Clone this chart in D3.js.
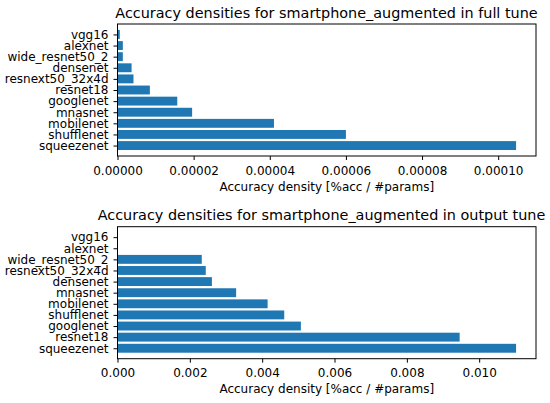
<!DOCTYPE html>
<html>
<head>
<meta charset="utf-8">
<script src="https://cdn.jsdelivr.net/npm/d3@7"></script>
<style>
  body { margin: 0; background: #fff; }
  text { font-family: "DejaVu Sans", sans-serif; fill: #000; }
</style>
</head>
<body>
<svg width="550" height="403"></svg>
<script>
// categories listed bottom -> top, like matplotlib barh
const fullNames = ["squeezenet", "shufflenet", "mobilenet", "mnasnet", "googlenet", "resnet18",
  "resnext50_32x4d", "densenet", "wide_resnet50_2", "alexnet", "vgg16"];
const fullValues = [0.0001047, 0.0000600, 0.0000411, 0.0000196, 0.0000157, 0.0000085,
  0.0000042, 0.0000037, 0.0000014, 0.0000014, 0.0000006];
const fullTicks = [0, 0.00002, 0.00004, 0.00006, 0.00008, 0.0001];

const outNames = ["squeezenet", "resnet18", "googlenet", "shufflenet", "mobilenet", "mnasnet",
  "densenet", "resnext50_32x4d", "wide_resnet50_2", "alexnet", "vgg16"];
const outValues = [0.01102, 0.00946, 0.00507, 0.00461, 0.00415, 0.00328,
  0.00261, 0.00244, 0.00233, 0, 0];
const outTicks = [0, 0.002, 0.004, 0.006, 0.008, 0.010];

const svg = d3.select("svg");
const color = "#1f77b4";

// draw one horizontal bar panel
function panel(top, names, values, ticks, fmt, title, titleX) {
  const left = 117.5, right = 536, h = 132;
  const n = names.length;
  const g = svg.append("g");

  // matplotlib style 5% margins
  const xmax = d3.max(values) * 1.05;
  const x = d3.scaleLinear().domain([0, xmax]).range([left, right]);
  const lo = -0.4, hi = n - 1 + 0.4, pad = (hi - lo) * 0.05;
  const y = d3.scaleLinear().domain([lo - pad, hi + pad]).range([top + h, top]);

  g.selectAll("rect")
    .data(values)
    .enter()
    .append("rect")
    .attr("x", x(0))
    .attr("y", (d, i) => y(i + 0.4))
    .attr("width", (d) => x(d) - x(0))
    .attr("height", y(-0.4) - y(0.4))
    .attr("fill", color);

  // frame
  g.append("rect")
    .attr("x", left).attr("y", top)
    .attr("width", right - left).attr("height", h)
    .attr("fill", "none").attr("stroke", "#000").attr("stroke-width", 1);

  const xAxis = g.append("g")
    .attr("transform", `translate(0,${top + h})`)
    .call(d3.axisBottom(x).tickValues(ticks).tickFormat(d3.format(fmt)).tickSize(4).tickSizeOuter(0).tickPadding(6));
  xAxis.select(".domain").remove();
  xAxis.selectAll("text").style("font-size", "12px").attr("font-family", "DejaVu Sans");

  const yAxis = g.append("g")
    .attr("transform", `translate(${left},0)`)
    .call(d3.axisLeft(y).tickValues(d3.range(n)).tickFormat((i) => names[i]).tickSize(4).tickPadding(5));
  yAxis.select(".domain").remove();
  yAxis.selectAll("text").style("font-size", "12px").attr("font-family", "DejaVu Sans");

  g.append("text")
    .attr("x", (left + right) / 2)
    .attr("y", top + h + 34.5)
    .attr("text-anchor", "middle")
    .style("font-size", "12px")
    .text("Accuracy density [%acc / #params]");

  g.append("text")
    .attr("x", titleX)
    .attr("y", top - 6.5)
    .attr("text-anchor", "middle")
    .style("font-size", "14.4px")
    .text(title);
}

panel(24, fullNames, fullValues, fullTicks, ".5f", "Accuracy densities for smartphone_augmented in full tune", 326.5);
panel(226.7, outNames, outValues, outTicks, ".3f", "Accuracy densities for smartphone_augmented in output tune", 321.5);
</script>
</body>
</html>
